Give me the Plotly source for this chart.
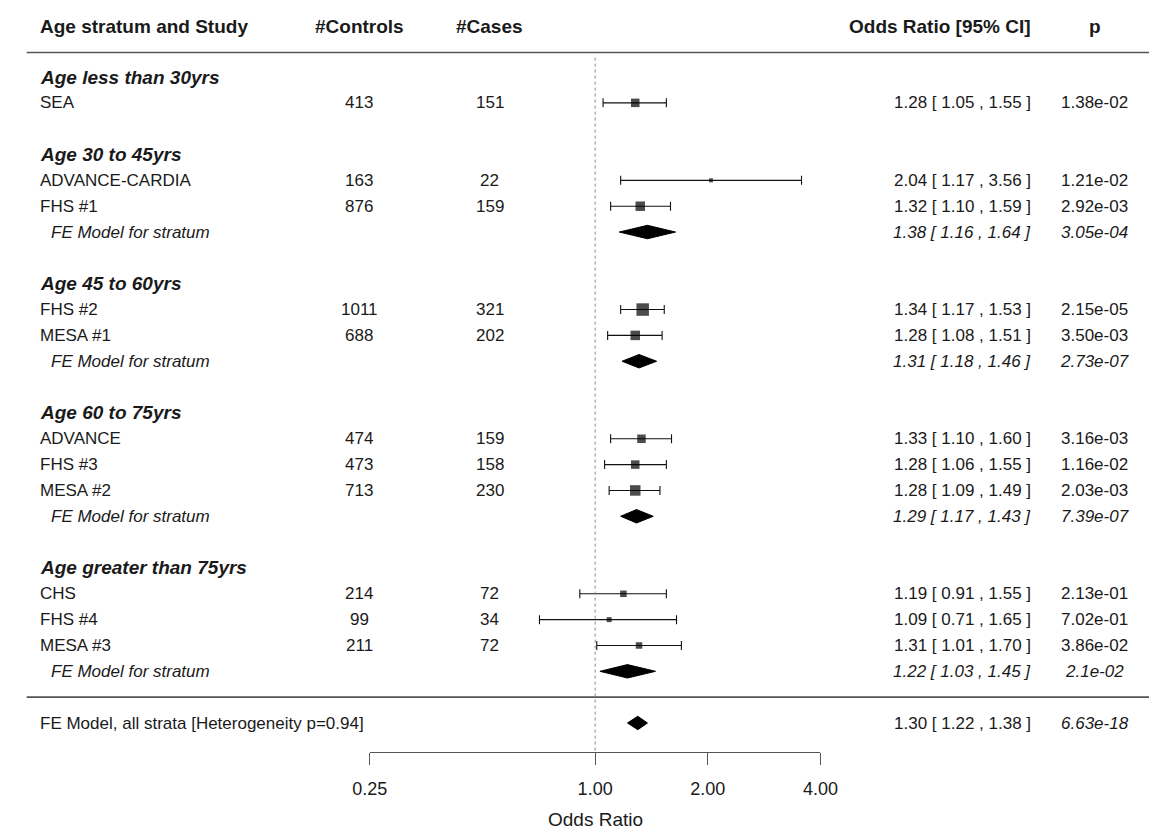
import math
import plotly.graph_objects as go

W, H = 1167, 832

# ---------------- data ----------------
groups = ["Age less than 30yrs", "Age 30 to 45yrs", "Age 45 to 60yrs",
          "Age 60 to 75yrs", "Age greater than 75yrs"]
group_rows = [0, 3, 8, 13, 19]

studies = ["SEA", "ADVANCE-CARDIA", "FHS #1", "FHS #2", "MESA #1",
           "ADVANCE", "FHS #3", "MESA #2", "CHS", "FHS #4", "MESA #3"]
study_rows = [1, 4, 5, 9, 10, 14, 15, 16, 20, 21, 22]
controls = [413, 163, 876, 1011, 688, 474, 473, 713, 214, 99, 211]
cases = [151, 22, 159, 321, 202, 159, 158, 230, 72, 34, 72]
odds = [1.28, 2.04, 1.32, 1.34, 1.28, 1.33, 1.28, 1.28, 1.19, 1.09, 1.31]
ci_lo = [1.05, 1.17, 1.10, 1.17, 1.08, 1.10, 1.06, 1.09, 0.91, 0.71, 1.01]
ci_hi = [1.55, 3.56, 1.59, 1.53, 1.51, 1.60, 1.55, 1.49, 1.55, 1.65, 1.70]
pvals = ["1.38e-02", "1.21e-02", "2.92e-03", "2.15e-05", "3.50e-03",
         "3.16e-03", "1.16e-02", "2.03e-03", "2.13e-01", "7.02e-01", "3.86e-02"]
box_weight = [8.5, 4, 9.5, 12.5, 9.5, 8.5, 8.5, 10.5, 6.5, 5, 6.5]   # relative box size

fe_label = "FE Model for stratum"
fe_rows = [6, 11, 17, 23]
fe_or = [1.38, 1.31, 1.29, 1.22]
fe_lo = [1.16, 1.18, 1.17, 1.03]
fe_hi = [1.64, 1.46, 1.43, 1.45]
fe_p = ["3.05e-04", "2.73e-07", "7.39e-07", "2.1e-02"]

all_label = "FE Model, all strata [Heterogeneity p=0.94]"
all_row = 25
all_or, all_lo, all_hi, all_p = 1.30, 1.22, 1.38, "6.63e-18"

header_row = -1.95
header_line_row = -0.95
separator_row = 24

tick_vals = [0.25, 1.0, 2.0, 4.0]
tick_text = ["0.25", "1.00", "2.00", "4.00"]
x_title = "Odds Ratio"

# ---------------- layout helpers ----------------
ROW0_PX, PITCH = 77.0, 25.84
y_top = -ROW0_PX / PITCH
y_bot = (H - ROW0_PX) / PITCH
def px_row(py):
    return (py - ROW0_PX) / PITCH
def px(xp):
    return xp / W

FONT = "Liberation Sans, Arial, sans-serif"
FS = 17
FS_HEAD = 19
TXT = "#1a1a1a"

fig = go.Figure()

# studies: boxes with CI whiskers
fig.add_trace(go.Scatter(
    x=odds, y=study_rows, mode="markers",
    marker=dict(symbol="square", size=box_weight, color="black", line=dict(width=0)),
    error_x=dict(type="data", symmetric=False,
                 array=[h - o for h, o in zip(ci_hi, odds)],
                 arrayminus=[o - l for o, l in zip(odds, ci_lo)],
                 color="#111", thickness=1.1, width=4.5),
    xaxis="x", yaxis="y", hoverinfo="skip", showlegend=False))

# summary diamonds
dx, dy = [], []
hh = 0.26
for r, o, l, h in list(zip(fe_rows, fe_or, fe_lo, fe_hi)) + [(all_row, all_or, all_lo, all_hi)]:
    dx += [l, o, h, o, l, None]
    dy += [r, r - hh, r, r + hh, r, None]
fig.add_trace(go.Scatter(x=dx, y=dy, mode="lines", fill="toself", fillcolor="black",
                         line=dict(color="black", width=1), xaxis="x", yaxis="y",
                         hoverinfo="skip", showlegend=False))

ann = []
def text(x, y, s, anchor="left", bold=False, italic=False, size=FS):
    if bold:
        s = "<b>" + s + "</b>"
    if italic:
        s = "<i>" + s + "</i>"
    ann.append(dict(x=px(x), y=y, xref="paper", yref="y", text=s, showarrow=False,
                    xanchor=anchor, yanchor="middle",
                    font=dict(family=FONT, size=size, color=TXT)))

# column headers
text(21, header_row, "Age stratum and Study", bold=True, size=FS_HEAD)
text(352, header_row, "#Controls", anchor="center", bold=True, size=FS_HEAD)
text(486, header_row, "#Cases", anchor="center", bold=True, size=FS_HEAD)
text(1047, header_row, "Odds Ratio [95% CI]", anchor="right", bold=True, size=FS_HEAD)
text(1111, header_row, "p", anchor="center", bold=True, size=FS_HEAD)

for g, r in zip(groups, group_rows):
    text(21, r, g, bold=True, italic=True, size=FS_HEAD)

for s, r, c, k, o, l, h, p in zip(studies, study_rows, controls, cases, odds, ci_lo, ci_hi, pvals):
    text(21, r, s)
    text(352, r, str(c), anchor="center")
    text(487, r, str(k), anchor="center")
    text(1047, r, f"{o:.2f} [ {l:.2f} , {h:.2f} ]", anchor="right")
    text(1111, r, p, anchor="center")

for r, o, l, h, p in zip(fe_rows, fe_or, fe_lo, fe_hi, fe_p):
    text(32, r, fe_label, italic=True)
    text(1047, r, f"{o:.2f} [ {l:.2f} , {h:.2f} ]", anchor="right", italic=True)
    text(1111, r, p, anchor="center", italic=True)

text(21, all_row, all_label)
text(1047, all_row, f"{all_or:.2f} [ {all_lo:.2f} , {all_hi:.2f} ]", anchor="right")
text(1111, all_row, all_p, anchor="center", italic=True)

AXIS_PX = 752
ann.append(dict(x=px(596), y=px_row(819), xref="paper", yref="y", text=x_title,
                showarrow=False, xanchor="center", yanchor="middle",
                font=dict(family=FONT, size=19, color=TXT)))

shapes = [
    dict(type="line", xref="paper", yref="y", x0=px(9), x1=1, y0=header_line_row, y1=header_line_row,
         line=dict(color="#555", width=1.6)),
    dict(type="line", xref="paper", yref="y", x0=px(9), x1=1, y0=separator_row, y1=separator_row,
         line=dict(color="#555", width=1.6)),
    dict(type="line", xref="x", yref="y", x0=1, x1=1, y0=header_line_row + 0.2, y1=px_row(AXIS_PX),
         line=dict(color="#888", width=1, dash="dot")),
]

fig.update_layout(
    width=W, height=H, margin=dict(l=0, r=0, t=0, b=0),
    paper_bgcolor="white", plot_bgcolor="white",
    showlegend=False, annotations=ann, shapes=shapes,
    xaxis=dict(type="log", domain=[px(363), px(828)],
               range=[math.log10(0.25), math.log10(4)],
               anchor="free", position=1 - AXIS_PX / H,
               showline=True, linecolor="#555", linewidth=1.2,
               ticks="outside", ticklen=12, tickcolor="#555", tickwidth=1.2,
               tickvals=tick_vals, ticktext=tick_text,
               ticklabelstandoff=8,
               tickfont=dict(family=FONT, size=18, color=TXT),
               showgrid=False, zeroline=False, fixedrange=True),
    yaxis=dict(range=[y_bot, y_top], visible=False, showgrid=False, zeroline=False,
               domain=[0, 1], fixedrange=True),
)

fig.write_html("out.html", config={"displayModeBar": False, "staticPlot": True},
               post_script="document.body.style.margin='0';document.body.style.overflow='hidden';")
